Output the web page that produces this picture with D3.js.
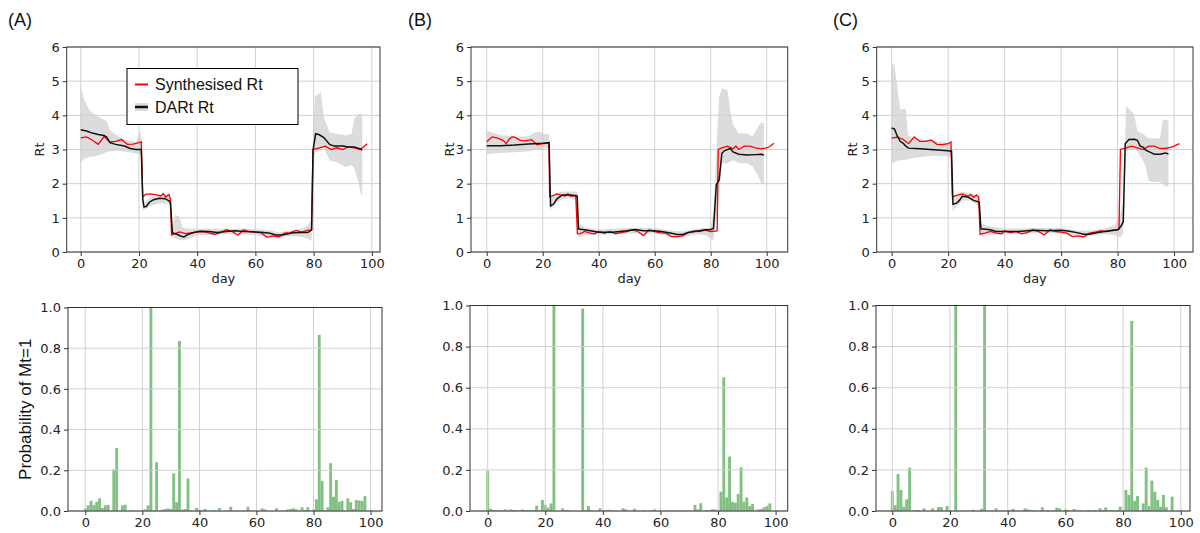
<!DOCTYPE html>
<html><head><meta charset="utf-8">
<script src="https://cdn.jsdelivr.net/npm/d3@7"></script>
<style>body{margin:0;background:#fff}</style>
</head><body><svg id="c" width="1200" height="533"></svg>
<script>
// ---------- data ----------
const dayTicks = [0, 20, 40, 60, 80, 100];
const rtTicks = [0, 1, 2, 3, 4, 5, 6];
const probTicks = [0, 0.2, 0.4, 0.6, 0.8, 1.0];
const panelLabels = ["(A)", "(B)", "(C)"];
const legendLabels = ["Synthesised Rt", "DARt Rt"];

// Synthesised Rt  [day, Rt]
const synthA = [[0,3.34],[2,3.37],[4,3.27],[6,3.15],[8,3.38],[10,3.22],[12,3.24],[14,3.29],[16,3.15],[18,3.16],[20,3.2],[20.8,3.22],[21.3,1.61],[22.3,1.69],[24,1.7],[26,1.67],[27.5,1.64],[28.3,1.71],[29.2,1.61],[30.3,1.68],[30.8,1.55],[31.2,0.5],[32,0.53],[34,0.59],[36,0.54],[38,0.56],[40,0.58],[42,0.6],[44,0.56],[46,0.52],[48,0.57],[50,0.65],[52,0.6],[54,0.49],[56,0.65],[58,0.6],[60,0.58],[62,0.56],[64,0.43],[66,0.47],[68,0.44],[70,0.55],[72,0.57],[74,0.63],[76,0.58],[78,0.64],[79.3,0.65],[79.8,3.0],[82,3.05],[84,3.1],[86,3.0],[88,3.05],[90,3.0],[92,3.08],[94,3.05],[96,3.0],[97.5,3.1],[98.4,3.17]];
const synthB = [[0,3.23],[1,3.3],[2,3.37],[4,3.33],[6,3.26],[7,3.17],[8,3.3],[9,3.37],[10,3.36],[12,3.27],[14,3.25],[16,3.29],[18,3.14],[20,3.17],[21.5,3.18],[22.2,3.2],[22.5,1.62],[23.5,1.64],[25,1.7],[27,1.66],[28,1.64],[29,1.7],[30,1.63],[31.8,1.66],[32.4,0.53],[33.5,0.54],[35,0.6],[37,0.55],[38.5,0.53],[40,0.6],[42,0.55],[44,0.6],[46,0.53],[48,0.57],[50,0.6],[52,0.65],[54,0.6],[56,0.48],[58,0.65],[60,0.6],[62,0.56],[64,0.55],[66,0.45],[68,0.45],[70,0.47],[72,0.57],[74,0.62],[76,0.6],[78,0.64],[80,0.6],[82.3,0.62],[82.7,3.0],[84,3.05],[86,3.1],[88,3.02],[89,3.1],[90,3.0],[92,3.1],[94,3.1],[96,3.05],[98,3.02],[100,3.05],[101,3.08],[102.6,3.18]];
const synthC = [[0,3.33],[2,3.36],[4,3.3],[6,3.17],[8,3.37],[10,3.24],[12,3.24],[14,3.28],[16,3.15],[18,3.14],[20,3.17],[21,3.22],[21.5,1.62],[23,1.66],[25,1.7],[27,1.63],[28,1.68],[29,1.6],[30,1.67],[30.8,1.6],[31.3,0.52],[33,0.55],[35,0.6],[37,0.55],[39,0.53],[40,0.62],[42,0.57],[44,0.6],[46,0.53],[48,0.57],[50,0.65],[52,0.6],[54,0.5],[56,0.65],[58,0.6],[60,0.58],[62,0.55],[64,0.45],[66,0.47],[68,0.44],[70,0.55],[72,0.58],[74,0.62],[76,0.6],[78,0.64],[80.5,0.66],[81,3.0],[83,3.05],[85,3.1],[87,3.05],[89,3.0],[91,3.1],[93,3.1],[95,3.03],[97,3.03],[99,3.07],[100,3.1],[101.9,3.17]];

// DARt Rt mean [day, Rt]
const dartA = [[0,3.58],[2,3.54],[4,3.48],[6,3.44],[8,3.41],[9,3.36],[10,3.2],[12,3.15],[15,3.1],[17,3.03],[19,3.0],[20.8,3.0],[21.3,1.55],[21.7,1.32],[22.5,1.33],[23.5,1.45],[25,1.53],[27,1.57],[29,1.56],[30.3,1.5],[30.8,1.45],[31.5,0.56],[33,0.52],[34.5,0.46],[35.5,0.44],[37,0.52],[39,0.58],[41,0.61],[44,0.6],[47,0.57],[50,0.6],[53,0.62],[56,0.6],[59,0.59],[62,0.58],[65,0.55],[67,0.5],[69,0.5],[71,0.53],[73,0.56],[76,0.57],[78,0.57],[79.3,0.65],[79.8,2.98],[80.7,3.46],[82,3.43],[83.5,3.35],[85.5,3.15],[87,3.1],[90,3.1],[92,3.07],[94,3.07],[96,3.02],[96.7,2.98]];
const dartB = [[0,3.11],[5,3.11],[10,3.13],[15,3.16],[20,3.18],[22.3,3.2],[22.8,1.35],[24,1.41],[25,1.55],[27,1.67],[30,1.67],[32.3,1.64],[32.8,0.67],[35,0.65],[37,0.62],[40,0.58],[45,0.58],[50,0.62],[53,0.66],[56,0.62],[60,0.62],[63,0.59],[66,0.55],[68,0.51],[70,0.51],[72,0.57],[75,0.61],[78,0.65],[80,0.66],[81,0.69],[82,1.96],[83,2.11],[84,2.89],[85,2.97],[87,3.03],[88,2.93],[90,2.86],[93,2.84],[96,2.85],[98,2.86],[99,2.84]];
const dartC = [[0,3.63],[1,3.6],[2,3.39],[3,3.24],[4,3.19],[5,3.1],[6,3.04],[10,3.02],[15,2.99],[20,2.96],[21.2,2.95],[21.7,1.4],[23,1.43],[24,1.51],[25,1.63],[27,1.61],[29,1.51],[31,1.46],[31.6,0.68],[35,0.65],[37,0.6],[40,0.6],[45,0.6],[50,0.64],[55,0.62],[60,0.64],[63,0.61],[66,0.56],[68,0.52],[70,0.52],[73,0.57],[76,0.61],[79,0.64],[80,0.65],[81,0.73],[82,0.88],[82.7,3.17],[84,3.29],[86,3.3],[87,3.27],[88,3.1],[89,3.07],[90,2.98],[92,2.9],[93,2.86],[95,2.86],[97,2.9],[98,2.87]];

// DARt credible band [day, low, high]
const bandA = [[0,2.59,4.85],[1,2.72,4.5],[3,2.78,4.15],[5,2.8,4.0],[7,2.86,3.92],[9,2.92,3.83],[10,2.95,3.56],[13,2.96,3.37],[16,2.93,3.27],[19,2.88,3.22],[20.3,2.86,3.56],[20.9,2.8,3.3],[21.3,1.2,1.75],[22,1.25,1.45],[24,1.35,1.6],[27,1.42,1.66],[30,1.42,1.7],[31,1.3,1.55],[31.5,0.42,0.75],[32.5,0.4,1.08],[33.8,0.36,1.05],[35,0.34,0.72],[37,0.38,0.68],[40,0.5,0.68],[45,0.5,0.68],[50,0.52,0.68],[55,0.52,0.68],[60,0.5,0.67],[65,0.45,0.63],[68,0.42,0.58],[72,0.46,0.62],[76,0.45,0.68],[78,0.38,0.78],[79.3,0.32,0.95],[79.8,2.6,3.6],[80.5,2.9,4.55],[82.5,3.0,4.68],[83.5,3.05,3.95],[85.5,2.68,3.5],[88,2.63,3.46],[91,2.49,3.41],[93,2.55,3.46],[94,2.45,3.9],[95.5,2.0,4.05],[96.2,1.71,4.05],[96.7,1.61,4.0]];
const bandB = [[0,2.87,3.55],[5,2.9,3.42],[10,2.92,3.38],[15,2.95,3.38],[17,2.98,3.5],[19,3.0,3.52],[21,3.05,3.45],[22.3,3.0,3.45],[22.8,1.24,1.62],[25,1.45,1.72],[27,1.55,1.77],[30,1.57,1.77],[32.2,1.5,1.77],[32.8,0.41,0.85],[35,0.5,0.72],[40,0.5,0.66],[50,0.54,0.7],[60,0.54,0.7],[66,0.47,0.62],[70,0.44,0.6],[75,0.52,0.68],[78,0.5,0.7],[80,0.38,0.72],[81,0.36,1.14],[82,1.04,2.89],[83,1.53,4.54],[84,2.6,4.79],[86,2.6,4.74],[87,2.65,4.15],[88,2.69,3.72],[90,2.6,3.47],[93,2.6,3.47],[95,2.5,3.38],[97,2.21,3.67],[98,2.01,3.78],[99,1.96,3.78]];
const bandC = [[0,2.6,5.53],[1,2.62,5.46],[2,2.68,4.85],[3,2.68,4.17],[5,2.7,4.2],[5.8,2.72,3.4],[10,2.78,3.29],[15,2.82,3.25],[20,2.8,3.19],[21,2.75,3.19],[21.6,1.19,1.61],[23,1.35,1.68],[25,1.51,1.76],[28,1.5,1.72],[31,1.34,1.61],[31.6,0.46,0.83],[35,0.5,0.75],[40,0.52,0.68],[50,0.55,0.7],[60,0.55,0.7],[66,0.48,0.63],[70,0.46,0.62],[75,0.52,0.68],[79,0.5,0.78],[80,0.45,0.95],[81,0.44,1.14],[82,0.55,1.53],[83,2.9,4.26],[84,3.0,4.2],[86,3.0,4.0],[87,2.95,3.53],[89,2.68,3.46],[90,2.49,3.39],[91,2.07,3.32],[93,2.05,3.32],[95,2.05,3.32],[96,2.0,3.87],[97,1.92,3.87],[98,1.92,3.85]];

// Probability of Mt=1, index = day
const probA = [0.013,0.028,0.05,0.03,0.045,0.062,0.015,0.028,0.03,0,0.205,0.31,0,0.027,0.031,0,0.005,0,0,0,0,0.008,0.027,1.0,0.003,0.24,0,0.007,0.01,0.013,0.01,0.185,0.043,0.835,0.007,0.01,0.16,0.003,0,0.015,0.005,0.003,0.01,0,0,0.005,0,0.015,0,0,0,0.021,0,0,0,0,0,0.021,0,0,0,0,0.013,0.008,0,0,0,0.013,0,0,0,0.008,0.01,0.013,0.008,0,0.018,0.005,0.018,0,0.008,0.057,0.865,0.148,0.005,0.018,0.235,0.07,0.152,0.045,0.05,0,0.062,0.043,0.01,0.054,0.052,0.05,0.073];
const probB = [0.196,0.011,0.005,0.005,0.005,0,0.008,0.003,0.008,0.005,0.005,0,0.008,0.005,0.005,0.005,0.005,0.026,0.005,0.053,0.03,0.016,0.037,1.0,0,0,0.013,0.005,0.005,0,0,0,0,0.985,0.003,0.024,0.003,0,0,0.013,0,0.005,0.006,0.003,0,0,0,0.013,0.008,0,0,0.011,0,0,0.005,0,0,0.003,0.008,0,0,0,0,0.003,0,0,0,0.003,0,0,0,0,0.03,0.008,0.038,0,0.005,0.005,0.008,0.008,0,0.094,0.65,0.066,0.265,0.045,0.04,0.083,0.212,0.045,0.066,0.024,0.034,0,0.008,0.01,0.018,0.024,0.037];
const probC = [0.097,0.028,0.18,0.102,0.021,0.057,0.211,0,0.005,0.005,0,0.013,0,0,0.013,0,0.019,0.019,0,0.024,0.003,0,1.0,0,0,0,0,0,0.006,0,0,0.011,1.0,0,0,0.003,0.013,0,0,0,0,0.005,0.01,0,0,0,0.013,0.008,0.005,0.005,0,0,0.018,0,0.005,0,0,0.016,0.013,0,0.008,0.005,0,0.01,0.005,0.003,0,0,0.005,0,0.005,0,0.013,0.005,0.018,0,0.005,0,0.005,0.021,0,0.102,0.078,0.925,0.049,0.073,0,0.037,0.211,0.024,0.148,0.094,0.054,0.021,0.078,0.018,0,0.07];

// ---------- layout ----------
const panels = [
  {label: panelLabels[0], lx: 8,
   top: {l: 66.7, r: 380, t: 47, b: 252, dom: [-4.82, 102.8], ylab: 40},
   bot: {l: 68, r: 382, t: 307.5, b: 511, dom: [-6.06, 104]},
   synth: synthA, dart: dartA, band: bandA, prob: probA, legend: true, probLabel: true},
  {label: panelLabels[1], lx: 408,
   top: {l: 471, r: 787.7, t: 47, b: 252, dom: [-5.6, 107.5], ylab: 450},
   bot: {l: 470, r: 787.7, t: 305.5, b: 511, dom: [-6.15, 104.2]},
   synth: synthB, dart: dartB, band: bandB, prob: probB},
  {label: panelLabels[2], lx: 833,
   top: {l: 876.7, r: 1193, t: 47, b: 252, dom: [-5.3, 106.7], ylab: 853},
   bot: {l: 876, r: 1190, t: 305.5, b: 511, dom: [-5.65, 103.2]},
   synth: synthC, dart: dartC, band: bandC, prob: probC}
];

const svg = d3.select("#c");
svg.append("rect").attr("width", 1200).attr("height", 533).attr("fill", "#fff");
const TICKFONT = "DejaVu Sans, sans-serif";
const ARIAL = "Liberation Sans, Arial, sans-serif";
const gridColor = "#d0d0d0";

function drawAxes(g, x, y, box, xt, yt, yfmt) {
  // grid
  g.append("g").selectAll("line.vx").data(xt).join("line")
    .attr("x1", d => x(d)).attr("x2", d => x(d)).attr("y1", box.t).attr("y2", box.b)
    .attr("stroke", gridColor).attr("stroke-width", 1);
  g.append("g").selectAll("line.hy").data(yt).join("line")
    .attr("x1", box.l).attr("x2", box.r).attr("y1", d => y(d)).attr("y2", d => y(d))
    .attr("stroke", gridColor).attr("stroke-width", 1);
}
function drawFrameTicks(g, x, y, box, xt, yt, yfmt) {
  g.append("rect").attr("x", box.l).attr("y", box.t).attr("width", box.r - box.l).attr("height", box.b - box.t)
    .attr("fill", "none").attr("stroke", "#333").attr("stroke-width", 1);
  const ax = g.append("g").attr("transform", `translate(0,${box.b})`)
    .call(d3.axisBottom(x).tickValues(xt).tickSize(4).tickPadding(3).tickFormat(d3.format("d")));
  const ay = g.append("g").attr("transform", `translate(${box.l},0)`)
    .call(d3.axisLeft(y).tickValues(yt).tickSize(4).tickPadding(3).tickFormat(yfmt));
  [ax, ay].forEach(a => {
    a.select(".domain").remove();
    a.selectAll("line").attr("stroke", "#333");
    a.selectAll("text").attr("font-family", TICKFONT).attr("font-size", 13).attr("fill", "#222");
  });
}

panels.forEach(p => {
  const g = svg.append("g");
  // panel label
  g.append("text").attr("x", p.lx).attr("y", 26).text(p.label)
    .attr("font-family", ARIAL).attr("font-size", 18).attr("fill", "#111");

  // ---- top: Rt ----
  const T = p.top;
  const x = d3.scaleLinear().domain(T.dom).range([T.l, T.r]);
  const y = d3.scaleLinear().domain([0, 6]).range([T.b, T.t]);
  g.append("path").datum(p.band)
    .attr("d", d3.area().x(d => x(d[0])).y0(d => y(d[1])).y1(d => y(d[2])))
    .attr("fill", "#dcdcdc").attr("stroke", "none");
  drawAxes(g, x, y, T, dayTicks, rtTicks);
  g.append("path").datum(p.synth)
    .attr("d", d3.line().x(d => x(d[0])).y(d => y(d[1])))
    .attr("fill", "none").attr("stroke", "#ff0000").attr("stroke-width", 1.3);
  g.append("path").datum(p.dart)
    .attr("d", d3.line().x(d => x(d[0])).y(d => y(d[1])))
    .attr("fill", "none").attr("stroke", "#111").attr("stroke-width", 1.5);
  drawFrameTicks(g, x, y, T, dayTicks, rtTicks, d3.format("d"));
  g.append("text").attr("x", (T.l + T.r) / 2).attr("y", 283).attr("text-anchor", "middle")
    .text("day").attr("font-family", TICKFONT).attr("font-size", 13).attr("fill", "#222");
  g.append("text").attr("transform", `translate(${T.ylab + 4},${(T.t + T.b) / 2}) rotate(-90)`)
    .attr("text-anchor", "middle").text("Rt").attr("font-family", TICKFONT).attr("font-size", 13).attr("fill", "#222");

  // ---- bottom: probability ----
  const B = p.bot;
  const xb = d3.scaleLinear().domain(B.dom).range([B.l, B.r]);
  const yb = d3.scaleLinear().domain([0, 1]).range([B.b, B.t]);
  g.append("g").selectAll("rect").data(p.prob.map((v, i) => [i, v])).join("rect")
    .attr("x", d => xb(d[0] - 0.5)).attr("width", d => xb(d[0] + 0.5) - xb(d[0] - 0.5))
    .attr("y", d => yb(d[1])).attr("height", d => B.b - yb(d[1]))
    .attr("fill", "#80c080");
  drawAxes(g, xb, yb, B, dayTicks, probTicks);
  drawFrameTicks(g, xb, yb, B, dayTicks, probTicks, d3.format(".1f"));

  if (p.probLabel) {
    g.append("text").attr("transform", `translate(31,${(B.t + B.b) / 2}) rotate(-90)`)
      .attr("text-anchor", "middle").text("Probability of Mt=1")
      .attr("font-family", ARIAL).attr("font-size", 17).attr("fill", "#111");
  }
  if (p.legend) {
    const lg = g.append("g");
    lg.append("rect").attr("x", 127).attr("y", 68.5).attr("width", 171).attr("height", 56)
      .attr("fill", "#fff").attr("stroke", "#000").attr("stroke-width", 1);
    lg.append("line").attr("x1", 135).attr("x2", 148).attr("y1", 84.5).attr("y2", 84.5)
      .attr("stroke", "#ff0000").attr("stroke-width", 2);
    lg.append("rect").attr("x", 135).attr("y", 103).attr("width", 13).attr("height", 8).attr("fill", "#dcdcdc");
    lg.append("line").attr("x1", 135).attr("x2", 148).attr("y1", 107).attr("y2", 107)
      .attr("stroke", "#111").attr("stroke-width", 2.5);
    lg.selectAll("text").data(legendLabels).join("text")
      .attr("x", 155).attr("y", (d, i) => 90 + i * 22.5).text(d => d)
      .attr("font-family", ARIAL).attr("font-size", 16).attr("fill", "#111");
  }
});
</script></body></html>
